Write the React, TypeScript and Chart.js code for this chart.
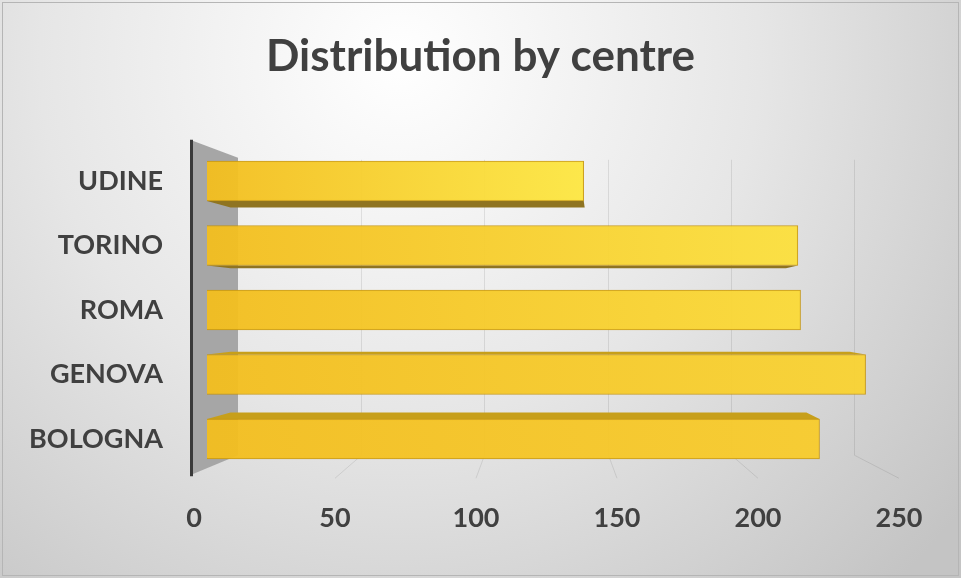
import React, { useEffect, useRef } from "react";
import { Chart, registerables } from "chart.js";

Chart.register(...registerables);

const chartTitle = "Distribution by centre";
const centres = ["UDINE", "TORINO", "ROMA", "GENOVA", "BOLOGNA"];
const counts = [139, 218, 219, 243, 226];
const tickValues = [0, 50, 100, 150, 200, 250];

const FONT = "Lato, 'Open Sans', sans-serif";
const TEXT = "#404040";

function mix(a: number[], b: number[], t: number, alpha: number) {
  const c = a.map((v, i) => Math.round(v + (b[i] - v) * t));
  return `rgba(${c[0]},${c[1]},${c[2]},${alpha})`;
}

export default function App() {
  const ref = useRef<HTMLCanvasElement>(null);

  useEffect(() => {
    const canvas = ref.current!;

    const background = {
      id: "background",
      beforeDraw(chart: any) {
        const { ctx, width, height } = chart;
        ctx.save();
        const g = ctx.createRadialGradient(400, 60, 0, 400, 60, 720);
        g.addColorStop(0, "#ffffff");
        g.addColorStop(0.5, "#e6e6e6");
        g.addColorStop(1, "#c4c4c4");
        ctx.fillStyle = g;
        ctx.fillRect(0, 0, width, height);
        ctx.strokeStyle = "#b5b5b5";
        ctx.lineWidth = 1;
        ctx.strokeRect(2.5, 2.5, width - 5, height - 5);
        ctx.restore();
      },
    };

    const scene = {
      id: "scene",
      beforeDatasetsDraw(chart: any) {
        const { ctx, chartArea: ca, scales } = chart;
        const xb = scales.xBack;
        const xt = scales.xt;
        const xs = scales.x;
        const wallTop = ca.top + 11;
        const floorBack = ca.bottom - 16;
        const floorFront = ca.bottom + 7;
        ctx.save();
        // back wall grid lines and floor lines
        ctx.strokeStyle = "rgba(0,0,0,0.09)";
        ctx.lineWidth = 1;
        tickValues.forEach((v) => {
          if (v === 0) return;
          const x = Math.round(xb.getPixelForValue(v)) + 0.5;
          ctx.beginPath();
          ctx.moveTo(x, wallTop);
          ctx.lineTo(x, floorBack);
          ctx.stroke();
          ctx.beginPath();
          ctx.moveTo(x, floorBack);
          ctx.lineTo(xt.getPixelForValue(v), floorFront);
          ctx.stroke();
        });
        // side wall
        const x0 = ca.left;
        const xw = xb.getPixelForValue(0);
        ctx.fillStyle = "#a6a6a6";
        ctx.beginPath();
        ctx.moveTo(x0, ca.top - 9);
        ctx.lineTo(xw, wallTop - 2);
        ctx.lineTo(xw, floorBack);
        ctx.lineTo(x0, floorFront - 3);
        ctx.closePath();
        ctx.fill();
        // axis line
        ctx.strokeStyle = "#3a3a3a";
        ctx.lineWidth = 3;
        ctx.beginPath();
        ctx.moveTo(x0 + 1.5, ca.top - 9);
        ctx.lineTo(x0 + 1.5, floorFront - 2);
        ctx.stroke();

        // bar top / bottom faces (perspective)
        const vx = xs.getPixelForValue(145);
        const vy = (ca.top + ca.bottom) / 2;
        const k = 0.06;
        const meta = chart.getDatasetMeta(0);
        meta.data.forEach((el: any) => {
          const left = Math.min(el.base, el.x);
          const right = Math.max(el.base, el.x);
          const top = el.y - el.height / 2;
          const bottom = el.y + el.height / 2;
          const edge = top > vy ? top : bottom < vy ? bottom : null;
          if (edge === null) return;
          const bl = left + (vx - left) * k;
          const br = right + (vx - right) * k;
          const be = edge + (vy - edge) * k;
          ctx.fillStyle = edge === top ? "#c79f1a" : "#8f7421";
          ctx.beginPath();
          ctx.moveTo(left, edge);
          ctx.lineTo(right, edge);
          ctx.lineTo(br, be);
          ctx.lineTo(bl, be);
          ctx.closePath();
          ctx.fill();
        });
        ctx.restore();
      },
    };

    const topRight = [253, 231, 66];
    const bottomRight = [248, 204, 44];
    const leftColor = [243, 190, 30];

    const chart = new Chart(canvas, {
      type: "bar",
      data: {
        labels: centres,
        datasets: [
          {
            data: counts,
            xAxisID: "x",
            yAxisID: "y",
            barThickness: 40,
            borderWidth: 1,
            borderColor: "rgba(196,148,10,0.9)",
            backgroundColor: (c: any) => {
              const ch = c.chart;
              const xs = ch.scales && ch.scales.x;
              if (!xs || c.dataIndex == null || !ch.chartArea) return "#f7c82a";
              const x0 = xs.getPixelForValue(0);
              const x1 = xs.getPixelForValue(c.raw);
              const t = c.dataIndex / (centres.length - 1);
              const g = ch.ctx.createLinearGradient(x0, 0, x1, 0);
              g.addColorStop(0, mix(leftColor, leftColor, 0, 0.95));
              g.addColorStop(1, mix(topRight, bottomRight, t, 0.95));
              return g;
            },
          },
        ],
      },
      options: {
        indexAxis: "y",
        animation: false,
        responsive: true,
        maintainAspectRatio: false,
        layout: { padding: 0 },
        plugins: {
          legend: { display: false },
          tooltip: { enabled: false },
          title: {
            display: true,
            text: chartTitle,
            color: TEXT,
            font: { family: FONT, size: 44, weight: "bold", lineHeight: 1.2 },
            padding: { top: 30, bottom: 65.95 },
          },
        },
        scales: {
          x: { type: "linear", display: false, min: -6.27, max: 278.2 },
          xBack: { type: "linear", display: false, min: -19.48, max: 293.4 },
          xt: {
            type: "linear",
            position: "bottom",
            min: -1.418,
            max: 272.0,
            afterBuildTicks: (s: any) => {
              s.ticks = tickValues.map((v) => ({ value: v }));
            },
            afterFit: (s: any) => {
              s.height = 106.75;
            },
            grid: { display: false },
            border: { display: false },
            ticks: {
              color: TEXT,
              padding: 23,
              maxRotation: 0,
              font: { family: FONT, size: 27, weight: "bold" },
            },
          },
          y: {
            type: "category",
            position: "left",
            afterFit: (s: any) => {
              s.width = 190;
            },
            grid: { display: false, drawTicks: false },
            border: { display: false },
            ticks: {
              color: TEXT,
              padding: 27,
              font: { family: FONT, size: 27, weight: "bold" },
            },
          },
        },
      },
      plugins: [background, scene],
    } as any);

    return () => chart.destroy();
  }, []);

  return (
    <div style={{ position: "absolute", left: 0, top: 0, width: 961, height: 578 }}>
      <canvas ref={ref} />
    </div>
  );
}
